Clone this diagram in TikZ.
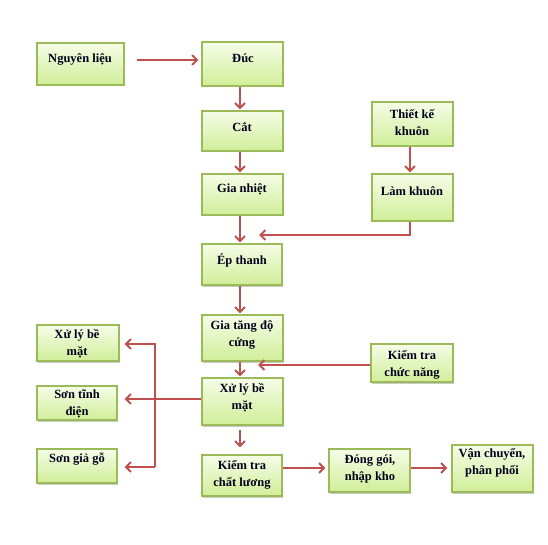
\documentclass[tikz,border=0pt]{standalone}
\usepackage{fontspec}
\setmainfont{Liberation Serif}
\usetikzlibrary{arrows.meta,shadows}
\definecolor{boxtop}{RGB}{246,253,232}
\definecolor{boxbot}{RGB}{208,238,152}
\definecolor{boxline}{RGB}{155,187,89}
\definecolor{arrred}{RGB}{192,80,77}
\tikzset{
  box/.style={draw=boxline, line width=1.1pt, top color=boxtop, bottom color=boxbot,
    drop shadow={shadow xshift=1pt, shadow yshift=-1.5pt, opacity=0.35, fill=black!60},
    inner sep=0pt},
  txt/.style={font=\bfseries\fontsize{12.5}{17}\selectfont, align=center, inner sep=0pt, text=black!90!blue},
  arr/.style={draw=arrred, line width=2.4pt, -{Straight Barb[length=5pt,width=10pt,line width=2pt]}},
  ln/.style={draw=arrred, line width=2.4pt}
}
\begin{document}
\begin{tikzpicture}[x=1pt,y=-1pt]
\useasboundingbox (0,0) rectangle (548,545);
% boxes
\node[box, minimum width=87pt, minimum height=42pt] (nl) at (80.5,64) {};
\node[box, minimum width=81pt, minimum height=44pt] (duc) at (242.5,64) {};
\node[box, minimum width=81pt, minimum height=40pt] (cat) at (242.5,131) {};
\node[box, minimum width=81pt, minimum height=41pt] (gn) at (242.5,194.5) {};
\node[box, minimum width=81pt, minimum height=44pt] (tk) at (412.5,124) {};
\node[box, minimum width=81pt, minimum height=47pt] (lk) at (412.5,197.5) {};
\node[box, minimum width=80pt, minimum height=41pt] (ep) at (242,264.5) {};
\node[box, minimum width=81pt, minimum height=46pt] (gt) at (242.5,338) {};
\node[box, minimum width=81pt, minimum height=47pt] (xl) at (242.5,401.5) {};
\node[box, minimum width=80pt, minimum height=41pt] (kt) at (242,475.5) {};
\node[box, minimum width=82pt, minimum height=38pt] (kc) at (412,363) {};
\node[box, minimum width=81pt, minimum height=43pt] (dg) at (369.5,470.5) {};
\node[box, minimum width=81pt, minimum height=47pt] (vc) at (492.5,468.5) {};
\node[box, minimum width=82pt, minimum height=36pt] (lx) at (78,343) {};
\node[box, minimum width=80pt, minimum height=34pt] (st) at (77,403) {};
\node[box, minimum width=80pt, minimum height=34pt] (sg) at (77,466) {};
% texts
\node[txt] (nlt) at (80,59) {Nguyên liệu};
\node[txt] (duct) at (243,58) {Đúc};
\node[txt] (catt) at (242,127) {Cắt};
\node[txt] (gnt) at (242,189) {Gia nhiệt};
\node[txt] (tkt) at (412,122.5) {Thiết kế\\khuôn};
\node[txt] (lkt) at (412,191) {Làm khuôn};
\node[txt] (ept) at (242,260) {Ép thanh};
\node[txt] (gtt) at (242,334.5) {Gia tăng độ\\cứng};
\node[txt] (xlt) at (242,398) {Xử lý bề\\mặt};
\node[txt] (ktt) at (242,474.5) {Kiểm tra\\chất lương};
\node[txt] (kct) at (412,364.5) {Kiểm tra\\chức năng};
\node[txt] (dgt) at (370,469) {Đóng gói,\\nhập kho};
\node[txt] (vct) at (492,462.5) {Vận chuyển,\\phân phối};
\node[txt] (lxt) at (77,343.5) {Xử lý bề\\mặt};
\node[txt] (stt) at (77,404) {Sơn tĩnh\\điện};
\node[txt] (sgt) at (77,459) {Sơn giả gỗ};
% coordinates
\coordinate (m1) at (259,235);
\coordinate (m2) at (258,365);
\coordinate (jt) at (155,344);
\coordinate (jb) at (155,467);
% connectors
\draw[arr, shorten <=12pt, shorten >=3pt] ([yshift=4pt]nl.east) -- ([yshift=4pt]duc.west);
\draw[arr, shorten >=1pt] ([xshift=-2.5pt]duc.south) -- ([xshift=-2.5pt]cat.north);
\draw[arr, shorten >=1pt] ([xshift=-2.5pt]cat.south) -- ([xshift=-2.5pt]gn.north);
\draw[arr, shorten >=1pt] ([xshift=-2.5pt]gn.south) -- ([xshift=-2pt]ep.north);
\draw[arr, shorten >=1pt] ([xshift=-2pt]ep.south) -- ([xshift=-2.5pt]gt.north);
\draw[arr, shorten >=1pt] ([xshift=-2.5pt]gt.south) -- ([xshift=-2.5pt]xl.north);
\draw[arr, shorten <=4pt, shorten >=7pt] ([xshift=-2.5pt]xl.south) -- ([xshift=-2pt]kt.north);
\draw[arr, shorten >=1pt] ([xshift=-2.5pt]tk.south) -- ([xshift=-2.5pt]lk.north);
\draw[arr] ([xshift=-2.5pt]lk.south) |- (m1);
\draw[arr] (kc.west |- m2) -- (m2);
\draw[arr, shorten >=7pt] ([yshift=2.5pt]xl.west) -- ([yshift=2.5pt]xl.west -| st.east);
\draw[arr, shorten >=5pt] (jb) -- (jt) -- (jt -| lx.east);
\draw[arr, shorten >=7pt] (jb) -- (jb -| sg.east);
\draw[arr, shorten >=3pt] ([yshift=2.5pt]dg.west -| kt.east) -- ([yshift=2.5pt]dg.west);
\draw[arr, shorten >=4pt] ([yshift=2.5pt]dg.east) -- ([yshift=2.5pt]dg.east -| vc.west);
\end{tikzpicture}
\end{document}
